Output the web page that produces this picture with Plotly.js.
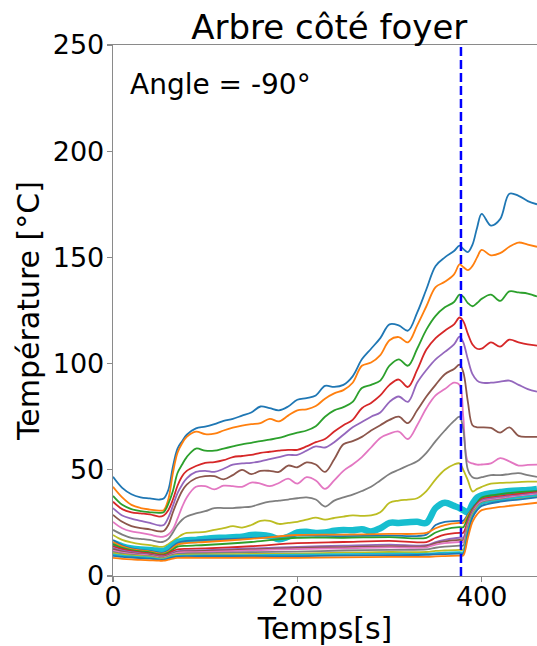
<!DOCTYPE html>
<html>
<head>
<meta charset="utf-8">
<script src="https://cdn.plot.ly/plotly-3.0.1.min.js"></script>
<style>html,body{margin:0;padding:0;background:#fff;}#chart{width:537px;height:646px;}</style>
</head>
<body>
<div id="chart"></div>
<script>
// ---------- DATA ----------
const chartTitle = 'Arbre côté foyer';
const angleLabel = 'Angle = -90°';
const xLabel = 'Temps[s]';
const yLabel = 'Température [°C]';
const xTicks = [0, 200, 400];
const yTicks = [0, 50, 100, 150, 200, 250];
const tEvent = 377.5;   // dashed vertical marker (s)

// time grid for the upper curves (s)
const t = [0,10,20,30,40,50,55,60,65,70,75,80,90,100,110,120,130,140,150,160,170,180,190,200,210,220,230,240,250,260,270,280,290,300,310,320,330,340,350,360,370,376,380,385,390,395,400,410,420,430,440,450,460];

const tc01 = [46.7,41.5,38.5,37,36.5,36,36.5,40.5,51.5,60,63.5,66.5,69.5,70.3,71.5,73,74,75.5,77,79.8,79,78,79.8,83,83.8,85,89.5,89,90,94,102,107,112,118.5,118,115.5,124,135,146,150,153,155.5,154,152.5,156,164,170.5,165,168,180,179,176.5,175];
const tc02 = [42,37,33.5,32,31.3,30.8,31,36,48.5,58,62.5,65.5,68,66.8,67,68.5,69.8,70.8,71.5,72,74,72.8,75.5,78,78.5,80,83.5,86,87.5,91,99,100.5,104,111,112.5,110,118,127,136,138.5,142,146.7,145.5,144,146,150,153.5,151,152,155,157,156,155];
const tc03 = [37.7,33.5,31.5,30.5,30,29.7,30,34,40,48.5,52.5,56,60,59,59,60,61,62,62.7,63.5,64.2,65,66.3,67.5,68.5,70.5,75,78,79.5,82,88.5,90,92,99,102,99,107,116,122.5,126.5,129,132.5,131.5,128.5,127,128.5,130.5,132.5,129.5,134,133.5,133,131.6];
const tc04 = [35,31.5,30,29.5,29,28,28.5,31,36,42.5,47,49.5,51.8,53.3,53.6,54.5,56,56.5,57,58,58.5,59,59.4,59.4,61,63,64.5,68,71,73.5,79,81.5,85,90,92.5,89,97,106.6,112,115.5,118.5,121.7,120,114,109,107,107,110,108,111.3,110,109,108.5];
const tc05 = [32,28.5,27,26,25,23.8,24,27.5,33,39,43,46,49,49.5,49,50.5,52.4,53,53.3,54,55,56,57,57,59,61,60.5,63,66.5,70,72.5,75,77,82,84.5,82,91,97,102,105.5,109,112.7,110,102,95,92,91,91,91.5,92,90,88,86.8];
const tc06 = [28.8,25.5,23.5,22.5,22,21,21.2,24,30,35.5,40,43,46,47,47,45.5,47.5,50,48,49.5,49.5,49,52,51.2,53.5,52.5,49,55,62,63.5,65.5,68.5,71,73.5,75,72,78,84.5,90,95,97.5,99.5,96,82,71,70,70,69.7,67.5,70,66,65.5,65.5];
const tc07 = [25.5,22.5,21,20.3,19.5,18.5,18.5,19.5,22,27,32.5,37,42,42.3,40.8,42.5,42.3,42,44,43.5,42.3,43.8,45.8,43.5,46.5,45,41,45,49.5,52.5,56,60.5,65,67,68,64.5,71,79,85,88,91,90,75,54,53,52.4,52.5,53,55.5,54,52,52.3,52.4];
const tc08 = [21.7,19.5,18,17.5,17,16,16.2,17.5,20.5,24,26.5,28,29.5,30.5,32,32,32,32.3,32.7,34,35,35.5,36,36.6,37,36,32.7,35.5,37,38.3,40,42,45,48,50,52,54,58,63.5,68.5,73,75,69,50,46.5,46,46.5,47.5,47.5,48,48.4,47.5,46.7];
const tc09 = [19.3,17,15.8,15,14.5,13.7,13.8,15,16.5,18,19.5,20.3,20.5,20.8,21.7,22.5,23.5,22.8,24,26,26,24.5,25,25.5,26.5,27.5,26.5,27.3,28,28.5,28.3,28.5,30,34.5,35.5,36,36.6,40,45.5,50,52.5,53,50,45,39.8,41,42,43.5,43.8,44,44.2,44.4,44.4];
const tc10 = [15.6,14,13,12.5,12.3,11.8,11.8,13,14.5,16,16.5,16.8,17,17.5,17.9,18,18.3,18.5,19.3,19.3,18.8,17.3,18.5,20.5,20.8,20.3,20.5,21.3,21.7,21.5,22,21,22.5,25,25,25.3,25.5,25,32,34.5,33,32,31,30,34,37,38,39,39.5,40,40.3,40.5,41];

// time grid for the lower bundle (s)
const tb = [0,10,20,30,40,50,55,60,65,70,80,100,150,200,250,300,340,350,360,376,380,385,390,395,400,420,440,460];

const tc11 = [17,14.5,13,12.3,11.8,11,11,12,14,15.5,16.5,17,17.8,19,18.8,19,19.5,24,25.5,26,26,29,32,34.5,36.5,38,39,40];
const tc12 = [16,14,12.7,12,11.5,10.6,10.6,11.5,13.2,14.8,15.5,16,17.5,19.3,19.5,19.8,20.3,22.5,24,25,25,28.5,31.5,34,36,37.5,38.5,39];
const tc13 = [15,13.2,12.2,11.6,11.1,10.2,10.2,11,12.5,13.8,14.2,14.6,16,18,18,18.3,18,20.5,22,23,23,27.5,31.5,34.5,37,38.5,39.5,40];
const tc14 = [14,12.6,11.7,11.1,10.6,9.8,9.8,10.5,11.7,12.5,12.8,13,14,15.5,16,16.5,16,18,19.5,20.3,20.3,26,31,34,36,37.5,38.5,39.5];
const tc15 = [13.3,12,11.2,10.7,10.2,9.4,9.4,10,11,11.7,12,12.2,13,13.7,14.3,14.8,14.5,16,17,18,18,25,30.5,33.5,35.5,37,38,39];
const tc16 = [12.6,11.5,10.8,10.3,9.9,9.1,9.1,9.7,10.6,11.3,11.6,11.8,12.5,13.2,13.6,14,14,15.5,16.3,17,17,24.5,30,33,35,36.5,37.5,38.5];
const tc17 = [12,11,10.4,10,9.6,8.8,8.8,9.4,10.3,11,11.2,11.3,12,12.7,13,13.5,13.5,14.8,15.5,16,16,24,29.5,33,35,36.5,37.5,38.5];
const tc18 = [11.4,10.5,10,9.6,9.3,8.5,8.5,9.1,9.9,10.4,10.6,10.8,11.2,11.5,12,12.3,12.5,13.3,13.8,14.3,14.3,23,29,32.5,34.5,36,37,38];
const tc19 = [10.8,10,9.6,9.3,9,8.2,8.2,8.8,9.5,9.9,10,10.2,10.4,10.5,11,11.3,11.3,11.8,12,12.3,12.3,22,28.5,32,34,35.5,36.5,37.5];
const tc20 = [10.2,9.6,9.2,8.9,8.6,7.9,7.9,8.5,9.2,9.5,9.6,9.7,9.8,10,10.3,10.5,10.5,10.8,11,11.2,11.2,21,28,31.5,34,35.5,37,38];
const tc21 = [9.5,9,8.7,8.4,8.2,7.6,7.6,8.2,8.8,9.1,9.2,9.3,9.3,9.3,9.6,9.8,10,10.2,10.3,10.5,10.5,20,27.5,31,33,35,36,37];
const tc22 = [8.5,8.1,7.8,7.6,7.4,7.2,7.2,7.7,8.2,8.5,8.6,8.5,8.6,8.5,8.8,9,9,9.2,9.4,9.6,9.6,18,25.5,29,31,32.5,33.5,34.5];

// ---------- STYLE ----------
const palette = ['#1f77b4','#ff7f0e','#2ca02c','#d62728','#9467bd','#8c564b','#e377c2','#7f7f7f','#bcbd22','#17becf'];
const upper = [tc01,tc02,tc03,tc04,tc05,tc06,tc07,tc08,tc09,tc10];
const lower = [tc11,tc12,tc13,tc14,tc15,tc16,tc17,tc18,tc19,tc20,tc21,tc22];

const traces = [];
upper.forEach((ys, i) => {
  traces.push({x: t, y: ys, type: 'scatter', mode: 'lines',
    line: {color: palette[i % 10], width: i === 9 ? 6.5 : 1.8, shape: 'spline', smoothing: 1},
    hoverinfo: 'skip'});
});
lower.forEach((ys, j) => {
  const i = 10 + j;
  traces.push({x: tb, y: ys, type: 'scatter', mode: 'lines',
    line: {color: palette[i % 10], width: 1.8, shape: 'spline', smoothing: 0.9},
    hoverinfo: 'skip'});
});
// dashed event marker
traces.push({x: [tEvent, tEvent], y: [yTicks[0], yTicks[yTicks.length-1]], type: 'scatter', mode: 'lines',
  line: {color: '#0000ff', width: 2.5, dash: '9px,4px'}, hoverinfo: 'skip'});

const axisCol = '#8a8a8a';
const layout = {
  width: 537, height: 646,
  margin: {l: 113, r: 0, t: 45, b: 70, pad: 0},
  paper_bgcolor: '#ffffff', plot_bgcolor: '#ffffff',
  showlegend: false,
  font: {family: 'DejaVu Sans, sans-serif', color: '#000000'},
  title: {text: chartTitle, font: {size: 34, color: '#000'}, x: 0.51, xanchor: 'center',
          xref: 'paper', yref: 'paper', y: 1, yanchor: 'bottom', pad: {b: 6}},
  xaxis: {range: [0, 460], tickvals: xTicks, ticktext: xTicks.map(String),
          ticks: 'outside', ticklen: 5, tickwidth: 1.3, tickcolor: axisCol,
          ticklabelstandoff: -9,
          showline: true, linecolor: axisCol, linewidth: 1.3, mirror: true,
          showgrid: false, zeroline: false, tickfont: {size: 27, color: '#000'},
          title: {text: xLabel, font: {size: 30, color: '#000'}, standoff: 6}},
  yaxis: {range: [0, 250], tickvals: yTicks, ticktext: yTicks.map(String),
          ticks: 'outside', ticklen: 5, tickwidth: 1.3, tickcolor: axisCol,
          ticklabelstandoff: -3,
          showline: true, linecolor: axisCol, linewidth: 1.3, mirror: false,
          showgrid: false, zeroline: false, tickfont: {size: 27, color: '#000'},
          title: {text: yLabel, font: {size: 30, color: '#000'}, standoff: 4}},
  annotations: [{text: angleLabel, xref: 'paper', yref: 'paper', x: 0.035, y: 0.925,
                 xanchor: 'left', yanchor: 'middle', showarrow: false,
                 font: {size: 28, color: '#000'}}]
};

Plotly.newPlot('chart', traces, layout, {staticPlot: true, displayModeBar: false});
</script>
</body>
</html>
